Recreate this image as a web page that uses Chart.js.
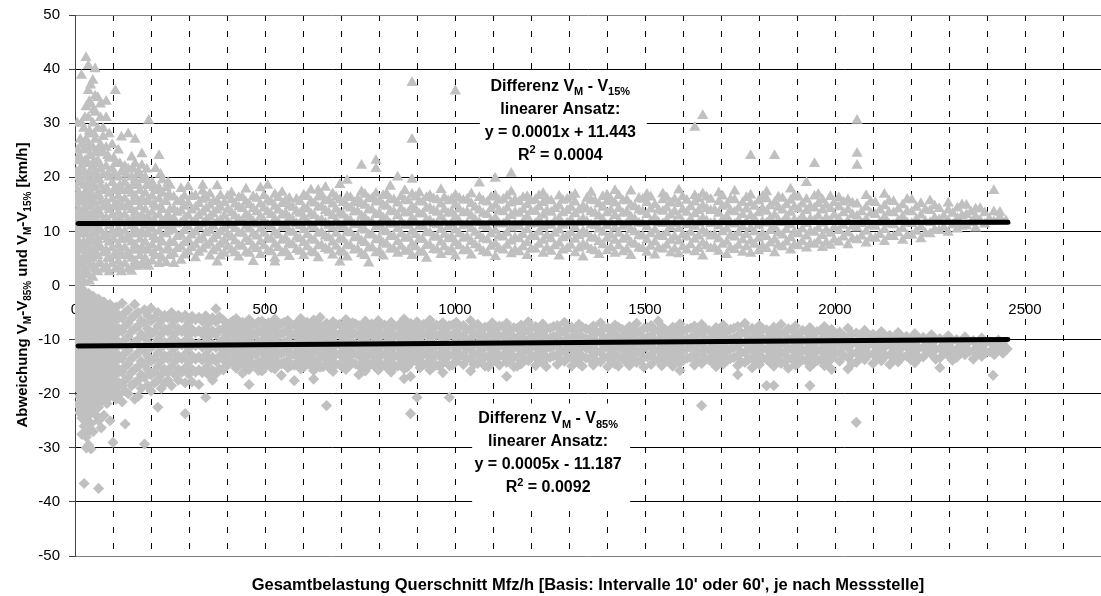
<!DOCTYPE html>
<html>
<head>
<meta charset="utf-8">
<script src="https://cdn.jsdelivr.net/npm/chart.js@4/dist/chart.umd.min.js"></script>
<style>
  html, body { margin: 0; padding: 0; background: #fff; }
</style>
</head>
<body>
<canvas id="chart" width="1101" height="596"></canvas>
<script>
// Differenz V_M - V_15% : each row is [Mfz/h, deviation, deviation, ...]
const vm15Rows = [
  [2, 0.5, 2, 4, 6, 9, 12, 15, 18],
  [4, 3, 5.5, 8, 10.5, 13.5, 16.5, 21, 23],
  [6, 1, 3.5, 7, 10, 13, 16, 20, 25, 30],
  [11, 0.2, 2.5, 5, 8, 11, 14, 17, 21, 24],
  [14, 3.5, 6.5, 9.5, 12.5, 15.5, 19.5, 23, 27],
  [17, 1.5, 4, 7, 9.5, 12, 15.5, 19, 22, 26, 30, 38.8],
  [23, 2, 5, 8, 11, 13.5, 16, 18.5, 21, 25, 29],
  [26, 0.5, 3.5, 6.5, 10, 14, 17, 20, 23, 25.5, 31],
  [29, 3, 6, 9.5, 12.5, 15, 17.5, 20, 23, 27, 33, 42.1],
  [35, 2, 4.5, 7.5, 10.5, 13, 16, 19, 22.5, 26, 31, 36, 40.6],
  [38, 0.8, 5.5, 8.5, 11.5, 15, 18, 21, 24, 28.5, 34],
  [41, 3.5, 6.5, 9, 12, 14.5, 17, 20.5, 24, 28, 33.5, 37],
  [47, 1.5, 5, 8, 11, 13.5, 16.5, 19.5, 22, 25.5, 30, 37.9],
  [50, 3.5, 6.5, 9.5, 12.5, 15.5, 18.5, 23, 28, 32.5],
  [53, 3, 6, 9.5, 12.5, 15, 18, 21, 24.5, 27, 32, 35, 40],
  [60, 2.5, 5.5, 8.5, 11, 14, 17, 20, 23, 29, 34.7],
  [64, 4, 7.5, 10.5, 13.5, 16.5, 19.5, 22.5, 25],
  [67, 4, 7, 10, 13, 15.5, 18.5, 21.5, 26, 31, 33.5],
  [74, 3, 6, 9, 12, 14.5, 17.5, 20.5, 24.5, 27.5, 29],
  [82, 3.5, 6.5, 9.5, 12.5, 15.5, 18, 22, 25.5, 31, 34],
  [86, 5, 8.5, 11.5, 14.5, 17.5, 20.5, 24],
  [90, 2.5, 5, 8, 11, 14, 17, 20, 23.5, 28],
  [98, 4, 7, 10, 13, 16, 19, 21.5, 26],
  [102, 5.5, 8.5, 11.5, 14.5, 17.5, 20.5, 23.5],
  [106, 3, 6, 9.5, 12, 15, 18, 22.5, 36],
  [114, 4.5, 7.5, 10.5, 13.5, 16.5, 20, 25],
  [118, 3.5, 6.5, 9.5, 12.5, 15.5, 18.5, 22.5],
  [122, 2.5, 5.5, 8.5, 11.5, 14.5, 17.5, 21, 27.4],
  [131, 4, 7, 10, 13, 16, 19, 22],
  [135, 5.5, 8.5, 11.5, 14.5, 17.5, 20.5],
  [140, 3, 6, 9, 12, 15, 18, 21.5, 28],
  [149, 2.6, 5, 8, 11, 14, 17, 20, 23.7],
  [153, 3.5, 6.5, 9.5, 12.5, 15.5, 18.5, 21.5],
  [158, 4.5, 7.5, 10.5, 13.5, 16.5, 19.5, 22.5, 27],
  [167, 3.5, 6.5, 9.5, 12.5, 15.5, 18.5, 21],
  [171, 5.5, 8.5, 11.5, 14.5, 17.5, 20.5],
  [176, 4, 7, 10, 13, 16, 19.5, 22.2, 24.3],
  [185, 5, 8, 11, 14, 17, 20],
  [189, 3.8, 6.5, 9.5, 12.5, 15.5, 18.5, 21.5],
  [194, 3.5, 6.5, 9.5, 12.5, 15.5, 18.5, 30.5],
  [203, 4.5, 7.5, 10.5, 13.5, 16.5, 19],
  [207, 6, 9, 12, 15, 18],
  [212, 5.5, 8.5, 11.5, 14.5, 17.5, 21.6],
  [221, 4, 7, 10, 13, 16, 18, 24],
  [225, 5.5, 8.5, 11.5, 14.5, 17.5, 20.5],
  [230, 5, 8, 11, 14, 17, 19.5],
  [240, 4.2, 6.5, 9.5, 12.5, 15.5, 18],
  [245, 7, 10, 13, 16.5, 19],
  [250, 5.5, 8, 11, 14, 16.5, 18.5],
  [260, 5.8, 7.9, 10.2, 12.4, 14.1, 16.3, 4],
  [269, 6.8, 9, 11.3, 13.5, 15.5],
  [279, 4.6, 7.1, 9.3, 11.6, 13.8, 15.7, 17.9],
  [288, 5.6, 7.9, 10.1, 12.3, 14.6, 16.5],
  [298, 6.2, 8.4, 10.8, 12.9, 15.2, 18.2],
  [307, 7, 9.3, 11.6, 13.9, 16.4],
  [317, 5.1, 7.5, 9.9, 12.1, 14.4, 16.6],
  [326, 6.1, 8.4, 10.7, 12.9, 15.1],
  [336, 6.7, 8.8, 11.3, 13.5, 15.9, 17.4, 18.5],
  [345, 7.4, 9.7, 12, 14.2, 16.2],
  [355, 5.4, 7.8, 10.1, 12.6, 14.8, 16.9],
  [364, 6.4, 8.6, 10.9, 13.2, 15.5],
  [374, 4.3, 6.9, 9.2, 11.7, 13.9, 15.6, 18.4],
  [383, 5.4, 7.6, 9.9, 12.1, 14.4, 16.6],
  [393, 5.9, 8.2, 10.5, 12.8, 15.3],
  [402, 7.1, 9.4, 11.7, 14, 16.5],
  [412, 6.5, 8.9, 11.1, 13.4, 15.8, 17.1],
  [421, 6, 8.2, 10.5, 12.8, 15],
  [431, 5.2, 7.4, 9.7, 12.2, 14.5, 16.2],
  [440, 7.2, 9.6, 11.9, 14.2, 16.3],
  [450, 6.1, 8.6, 10.9, 13.1, 15.4, 17.8],
  [459, 5.9, 8.1, 10.4, 12.6, 14.9],
  [469, 4.4, 7.2, 9.5, 11.8, 14.2, 16.4],
  [478, 6.8, 9.1, 11.3, 13.6, 16.1],
  [488, 5.7, 8.1, 10.4, 12.7, 15, 18],
  [497, 7.3, 9.6, 11.9, 14.3, 16.6],
  [507, 6.4, 8.7, 11.2, 13.6, 15.7, 18.5],
  [516, 6.2, 8.5, 10.8, 13.1, 15.4],
  [526, 5, 7.6, 9.8, 12.3, 14.6, 16.8, 4.3],
  [535, 7, 9.3, 11.6, 13.9, 16.2],
  [545, 6, 8.3, 10.7, 13, 15.1, 17.2],
  [554, 6.4, 8.7, 11, 13.3, 15.6],
  [564, 5.3, 7.7, 10, 12.5, 14.7, 16.1],
  [573, 7.5, 9.8, 12.1, 14.4],
  [583, 6.6, 8.9, 11.4, 13.7, 15.9],
  [592, 6.3, 8.6, 11, 13.3, 15.5],
  [602, 5.5, 7.9, 10.3, 12.6, 14.3, 16.7],
  [611, 7.1, 9.4, 11.8, 14.1, 16.4],
  [621, 6.2, 8.5, 10.9, 13.2, 15.5, 17.6],
  [630, 6, 8.3, 10.6, 12.9, 15.2],
  [640, 5.1, 7.3, 9.6, 12, 14.4, 16.3, 17.6],
  [649, 7.4, 9.8, 12.1, 14.5, 16.7],
  [659, 6.8, 9.1, 11.5, 13.8, 15.6, 18.1],
  [668, 6.5, 8.8, 11.1, 13.4, 15.7],
  [678, 5.6, 8, 10.6, 12.9, 15, 16.9],
  [687, 7.2, 9.6, 11.9, 14.1, 16.3],
  [697, 6.3, 8.6, 11, 13.3, 15.8, 18.6, 4.3],
  [706, 6.1, 8.4, 10.7, 13, 15.3],
  [716, 5.2, 7.5, 9.9, 12.2, 14.6, 16.4, 19.4],
  [725, 7.3, 9.7, 12, 14.3, 16.2],
  [735, 6.5, 8.8, 11.2, 13.6, 15.3],
  [744, 6.6, 8.9, 11.3, 13.6, 15.9],
  [754, 5.8, 8.2, 10.4, 12.8, 15.1, 17.3, 22.2],
  [763, 5.5, 7.9, 10.2, 12.5, 14.8, 16.8],
  [773, 4.1, 6.9, 9.4, 11.7, 14, 16],
  [782, 7, 9.3, 11.6, 13.9, 16.1],
  [792, 6, 8.4, 10.8, 13.1, 15.4, 17, 23.1, 21.6],
  [801, 6.4, 8.7, 11, 13.3, 15.6],
  [811, 5.4, 7.8, 10.1, 12.5, 14.8, 16.6],
  [820, 7.6, 9.9, 12.2, 14.6, 16.9],
  [830, 6.7, 9, 11.3, 13.7, 15.9, 18.3],
  [839, 6.7, 9, 11.3, 13.6, 15.8],
  [849, 5.9, 8.1, 10.5, 12.9, 15.2, 20],
  [858, 7.2, 9.5, 11.8, 14.1, 16.4],
  [868, 6.3, 8.7, 11.1, 13.4, 15.7, 17.5],
  [877, 6.4, 8.8, 11.1, 13.4, 15.6],
  [887, 5.5, 7.6, 10, 12.4, 14.5, 16.8, 19.6, 27, 37.5],
  [896, 7.1, 9.4, 11.7, 14, 16.3],
  [906, 6.1, 8.5, 10.9, 13.2, 15.5, 17.1],
  [915, 6.2, 8.5, 10.9, 13.2, 15.4],
  [925, 5, 7.4, 9.8, 12.1, 14.3, 16.2],
  [934, 7.4, 9.7, 12, 14.3, 16.6],
  [944, 6.6, 8.9, 11.4, 13.8, 16],
  [953, 6.5, 8.9, 11.2, 13.5, 15.8],
  [963, 5.7, 8, 10.3, 12.7, 15, 17.7],
  [972, 7.1, 9.4, 11.7, 14, 16.2],
  [982, 6.2, 8.6, 10.8, 13.3, 15.6],
  [991, 6.6, 8.9, 11.3, 13.6, 15.9],
  [1001, 5.4, 7.9, 10.2, 12.6, 14.9, 16.7, 35.9],
  [1011, 7.3, 9.5, 11.8, 14.1, 16.1],
  [1022, 6.4, 8.7, 11, 13.4, 15.7],
  [1032, 6.6, 8.9, 11.3, 13.6, 15.9],
  [1043, 5.6, 8.1, 10.5, 12.8, 15.1, 16.9],
  [1053, 7.5, 9.8, 12.1, 14.4],
  [1064, 6.9, 9.2, 11.6, 13.9, 16.2, 18.9],
  [1074, 6.3, 8.6, 11, 13.3, 15.6],
  [1085, 6, 8.4, 10.7, 13.1, 15.4],
  [1095, 7.2, 9.5, 11.9, 14.2, 16.3],
  [1106, 5.3, 7.7, 10.1, 12.5, 14.8, 16.6, 19.8],
  [1116, 6.8, 9.1, 11.4, 13.8, 15.7],
  [1127, 6.5, 8.9, 11.3, 13.6, 15.9],
  [1137, 7.4, 9.7, 12, 14.3, 16.5],
  [1148, 5.8, 8.2, 10.6, 12.9, 15.2, 17.3, 20.7],
  [1158, 6.5, 8.8, 11.2, 13.5, 15.8],
  [1169, 6.2, 8.6, 10.9, 13.3, 15.5],
  [1179, 7.1, 9.4, 11.7, 14, 16.2],
  [1190, 5.5, 7.9, 10.3, 12.7, 14.9, 16.4],
  [1200, 6.7, 9, 11.3, 13.7, 15.6],
  [1211, 6.7, 9, 11.4, 13.7, 15.8],
  [1221, 7.6, 9.9, 12.2, 14.5, 16.6],
  [1232, 5.9, 8.3, 10.8, 13, 15.3, 17],
  [1242, 6.9, 9.2, 11.5, 13.8, 16],
  [1253, 6.3, 8.6, 11.1, 13.5, 15.6],
  [1263, 7.3, 9.6, 11.9, 14.2],
  [1274, 5.4, 7.8, 10.2, 12.4, 14.7, 16.5],
  [1284, 6.5, 8.8, 11.1, 13.4, 15.7],
  [1295, 6.8, 9.1, 11.5, 13.8, 15.9],
  [1305, 7.4, 9.7, 12.1, 14.4, 16.3],
  [1316, 6, 8.5, 10.7, 13.2, 15.4, 16.8],
  [1326, 6.9, 9.2, 11.6, 13.9],
  [1337, 5.2, 7.6, 10, 12.3, 14.6],
  [1347, 7.2, 9.5, 11.8, 14.1, 16.1],
  [1358, 6.6, 8.8, 11.2, 13.6, 15.7, 17.2],
  [1368, 6.4, 8.7, 11, 13.3, 15.6],
  [1379, 5.7, 8.1, 10.4, 12.8, 15],
  [1389, 7.5, 9.8, 12.1, 14.4, 16.4],
  [1400, 6.4, 8.7, 11, 13.4, 15.5, 16.7],
  [1410, 7, 9.3, 11.6, 13.9, 15.9],
  [1421, 5.9, 8.3, 10.6, 12.9, 15.2, 17.5],
  [1431, 7.3, 9.6, 11.9, 14.2, 16.6],
  [1442, 6.2, 8.5, 10.9, 13.3, 15.6],
  [1452, 6.6, 8.9, 11.3, 13.6, 15.8],
  [1463, 5.5, 7.9, 10.3, 12.6, 14.8, 17.4],
  [1473, 7.6, 9.9, 12.2, 14.5],
  [1484, 6.9, 9.2, 11.5, 13.9, 16.1],
  [1494, 6.8, 9.1, 11.4, 13.7, 15.9],
  [1505, 6.1, 8.4, 10.8, 13.1, 15.3, 16.8],
  [1515, 7.2, 9.5, 11.8, 14.1, 16.3],
  [1526, 5.6, 8, 10.2, 12.5, 14.9],
  [1536, 6.9, 9.2, 11.6, 13.9],
  [1547, 6.7, 9, 11.4, 13.7, 15.8, 16.9],
  [1557, 7.4, 9.7, 12, 14.3, 16.2],
  [1568, 6, 8.3, 10.7, 13, 15.2],
  [1578, 6.7, 9, 11.4, 13.7, 15.9],
  [1589, 5.8, 8.2, 10.5, 12.8, 15.1, 17.6],
  [1599, 7.1, 9.4, 11.7, 14, 16.4],
  [1610, 6.5, 8.9, 11.2, 13.5, 15.7],
  [1620, 7.5, 9.8, 12.2, 14.5],
  [1631, 6.2, 8.5, 10.9, 13.2, 15.4, 16.6, 29.2],
  [1641, 6.8, 9.1, 11.5, 13.8, 16],
  [1652, 5.4, 7.8, 10.1, 12.4, 14.7, 16.9, 31.4],
  [1662, 7.3, 9.6, 11.9, 14.2, 16.3],
  [1673, 6.8, 9.1, 11.4, 13.8, 15.9],
  [1683, 7, 9.3, 11.6, 13.9],
  [1694, 6.3, 8.6, 11, 13.3, 15.5, 17.1],
  [1704, 7.6, 9.9, 12.2, 14.6, 16.5],
  [1715, 5.7, 8, 10.4, 12.7, 14.9],
  [1725, 6.9, 9.2, 11.5, 13.8, 15.9],
  [1736, 6.6, 8.9, 11.3, 13.6, 15.8, 17.4],
  [1746, 7.4, 9.7, 12, 14.3],
  [1757, 6.1, 8.4, 10.8, 13.1, 15.3],
  [1767, 7.1, 9.4, 11.8, 14.1, 16.2],
  [1778, 5.9, 8.2, 10.6, 12.9, 15.2, 16.7, 24],
  [1788, 7.6, 9.9, 12.3, 14.6],
  [1799, 6.4, 8.7, 11.1, 13.4, 15.6],
  [1809, 7.2, 9.5, 11.8, 14.2, 16.4],
  [1820, 6.8, 9, 11.5, 13.7, 16, 17.3],
  [1830, 7.8, 10.1, 12.4, 14.7],
  [1841, 6, 8.4, 10.7, 13, 15.3, 24],
  [1851, 7.4, 9.7, 12, 14.4, 16.3],
  [1862, 7.1, 9.3, 11.6, 13.9, 16.1],
  [1872, 8, 10.3, 12.6, 14.9],
  [1883, 6.5, 8.8, 11.2, 13.5, 15.7, 17.8],
  [1893, 7.5, 9.8, 12.1, 14.5, 16.6],
  [1904, 7.3, 9.5, 11.8, 14.1, 16.3],
  [1914, 8.1, 10.4, 12.7, 15],
  [1925, 6.9, 9.1, 11.4, 13.8, 15.9, 19],
  [1935, 7.7, 10, 12.3, 14.6],
  [1946, 7.6, 9.8, 12, 14.3, 16.5, 22.5],
  [1956, 8.2, 10.5, 12.8, 15.1, 16.8],
  [1967, 7, 9.2, 11.5, 13.9, 15.8],
  [1977, 7.9, 10.2, 12.5, 14.8],
  [1988, 7.4, 9.6, 11.9, 14.2, 16.4],
  [1998, 8.4, 10.7, 13, 15.3],
  [2010, 8, 10.1, 12.3, 14.5, 16.2],
  [2022, 8.9, 11.1, 13.4, 15.4],
  [2034, 7.5, 9.7, 11.9, 14, 15.8],
  [2046, 8.6, 10.9, 13.1, 15.2],
  [2058, 8.4, 10.6, 12.8, 15, 22.2, 24.4, 30.5],
  [2070, 9.1, 11.4, 13.6],
  [2082, 7.8, 10, 12.2, 14.4, 16.6],
  [2094, 8.8, 11, 13.3, 15.5],
  [2106, 8.7, 10.9, 13.1, 15.3],
  [2118, 9.4, 11.6, 13.9],
  [2130, 8.1, 10.3, 12.6, 14.7, 16.8],
  [2142, 9, 11.3, 13.5, 15.6],
  [2154, 9, 11.2, 13.4, 15.5],
  [2166, 9.7, 11.9, 14.1],
  [2178, 8.3, 10.5, 12.7, 14.9],
  [2190, 9.2, 11.5, 13.7, 15.9],
  [2202, 9.3, 11.4, 13.6, 15.8],
  [2214, 10, 12.2, 14.4],
  [2226, 8.6, 10.8, 13, 15.1],
  [2238, 9.6, 11.8, 14],
  [2250, 9.5, 11.6, 13.8, 15.6],
  [2262, 10.3, 12.5, 14.7],
  [2274, 10.1, 12.1, 14.2],
  [2286, 10.7, 12.8],
  [2298, 9.8, 11.9, 13.9, 15.2],
  [2310, 11.2, 13.3],
  [2322, 10.4, 12.4, 14.3],
  [2334, 10.9, 12.9, 14.9],
  [2346, 11, 13.1, 14.8],
  [2358, 11.6, 13.6],
  [2370, 10.6, 12.7, 14.1],
  [2382, 12, 14.2],
  [2394, 11.3, 13.4],
  [2406, 12.3],
  [2418, 11.8, 13.6, 17.5],
  [2434, 12.6, 13.5],
  [2450, 11.9]
];

// Differenz V_M - V_85% : each row is [Mfz/h, deviation, deviation, ...]
const vm85Rows = [
  [2, -0.5, -2.5, -5, -7.5, -10, -12.5, -15, -18],
  [7, -1.5, -4, -6.5, -9, -11.5, -14, -16.5, -19, -22],
  [12, -0.8, -3, -5.5, -8, -10.5, -13, -15.5, -18, -20.5, -23.5],
  [18, -2, -4.5, -7, -9.5, -12, -14.5, -17, -19.5, -22, -24.5, -27.5],
  [24, -1, -3.5, -6, -8.5, -11, -13.5, -16, -18.5, -21, -23, -26, -36.6],
  [30, -2.5, -5, -7.5, -10, -12.5, -15, -17.5, -20, -22.5, -25, -28, -30],
  [36, -1.5, -4, -6.5, -9, -11.5, -14, -16.5, -19, -21.5, -24, -27, -29.5],
  [42, -3, -5.5, -8, -10.5, -13, -15.5, -18, -20.5, -23, -25.5, -30.2],
  [48, -2, -4.5, -7, -9.5, -12, -14.5, -17, -19.5, -22, -27],
  [55, -3.5, -6, -8.5, -11, -13.5, -16, -18.5, -21, -24],
  [62, -2.5, -5, -7.5, -10, -12.5, -15, -17.5, -20, -22.5, -25, -37.5],
  [69, -4, -6.5, -9, -11.5, -14, -16.5, -19, -21.5, -26.3],
  [76, -3, -5.5, -8, -10.5, -13, -15.5, -18, -20.5, -24],
  [84, -4.5, -7, -9.5, -12, -14.5, -17, -19.5, -21.8],
  [92, -3.5, -6, -8.5, -11, -13.5, -16, -18.5, -20.5, -25],
  [100, -5, -7.5, -10, -12.5, -15, -17.5, -20, -29],
  [108, -4, -6.5, -9, -11.5, -14, -16.5, -19, -21],
  [116, -5.5, -8, -10.5, -13, -15.5, -18, -20.2],
  [124, -3.3, -6, -8.5, -11, -13.5, -16, -18.5, -21.5],
  [132, -5, -7.5, -10, -12.5, -15, -17.5, -19.5, -25.6],
  [140, -4.5, -7, -9.5, -12, -14.5, -17, -20],
  [149, -6, -8.5, -11, -13.5, -16, -18.5],
  [157, -3.5, -5.5, -8, -10.5, -13, -15.5, -18, -21],
  [166, -5, -7.5, -10, -12.5, -15, -17.5, -20.5],
  [174, -6.5, -9, -11.5, -14, -16.5, -19],
  [183, -4.5, -7, -9.5, -12, -14.5, -17, -29.3],
  [191, -5.5, -8, -10.5, -13, -15.5, -18.5],
  [200, -4.2, -6.5, -9, -11.5, -14, -16.5, -19.5],
  [209, -6, -8.5, -11, -13.5, -16, -18],
  [218, -5, -7.5, -10, -12.5, -15, -17.5, -22.5],
  [227, -6.5, -9, -11.5, -14, -16.5, -19],
  [236, -5.5, -8, -10.5, -13, -15.5, -18],
  [245, -6, -8.5, -11, -13.5, -16, -17.5],
  [254, -5, -7.5, -10, -12.5, -15, -18.5],
  [263, -6.5, -9, -11.5, -14, -16.5],
  [272, -5.5, -8, -10.5, -13, -15.5, -17.5],
  [281, -6, -8.5, -11, -13.5, -16],
  [290, -5.5, -7.8, -10.2, -12.7, -15.2, -18, -23.7],
  [299, -6.8, -9.2, -11.6, -14.1, -16.4],
  [308, -5.7, -8.1, -10.5, -13, -15.5, -17.8],
  [317, -6.3, -8.7, -11.1, -13.6, -16],
  [326, -5.9, -8.3, -10.7, -13.2, -15.6, -18.3],
  [335, -6.6, -9, -11.4, -13.8, -16.1],
  [344, -5.6, -8, -10.4, -12.9, -15.3, -20.7],
  [353, -6.9, -9.3, -11.7, -14.2, -16.6],
  [362, -6, -8.4, -10.8, -13.3, -15.7, -17.5],
  [371, -4.3, -6.7, -9.1, -11.5, -14, -16.3],
  [380, -5.8, -8.2, -10.6, -13.1, -15.4],
  [390, -6.4, -8.2, -10, -11.9, -13.7, -15.6],
  [398, -7.5, -9.3, -11.2, -13, -14.9],
  [407, -7, -8.8, -10.7, -12.5, -14.4],
  [415, -6.6, -8.4, -10.3, -12.1, -14],
  [424, -6.1, -7.9, -9.8, -11.6, -13.5, -15.3],
  [432, -7.2, -9, -10.9, -12.7, -14.6],
  [441, -6.8, -8.6, -10.5, -12.3, -14.1, -16.2],
  [449, -7.7, -9.5, -11.4, -13.2, -15],
  [458, -6.3, -8.1, -10, -11.8, -13.7, -15.5, -18.3],
  [466, -7.1, -8.9, -10.8, -12.6, -14.5],
  [475, -7.2, -9, -10.9, -12.7, -14.6],
  [483, -6.7, -8.5, -10.4, -12.2, -14.1, -15.7],
  [492, -6.6, -8.4, -10.3, -12.1, -14, -15.8],
  [500, -7.6, -9.4, -11.3, -13.1, -15],
  [509, -6.9, -8.7, -10.6, -12.4, -14.3],
  [517, -7.9, -9.7, -11.6, -13.4, -15.2],
  [526, -6.2, -8, -9.9, -11.7, -13.6, -15.4],
  [534, -7.1, -8.9, -10.8, -12.6, -14.5],
  [543, -7.1, -8.9, -10.8, -12.6, -14.5, -16.6],
  [551, -6.8, -8.6, -10.5, -12.3, -14.2],
  [560, -6.5, -8.3, -10.2, -12, -13.9, -15.2],
  [568, -7.4, -9.2, -11.1, -12.9, -14.8],
  [577, -7.3, -9.1, -11, -12.8, -14.7, -17.6],
  [585, -6.9, -8.7, -10.6, -12.4, -14.3],
  [594, -6.1, -7.9, -9.8, -11.6, -13.5, -15.4],
  [602, -7.7, -9.5, -11.4, -13.2, -15.1],
  [611, -6.8, -8.6, -10.5, -12.3, -14.2],
  [619, -7.3, -9.1, -11, -12.8, -14.7],
  [628, -6.4, -8.2, -10.1, -11.9, -13.8, -15.7, -17.3],
  [636, -6.7, -8.5, -10.4, -12.2, -14.1],
  [645, -5.9, -7.7, -9.6, -11.4, -13.3, -15.1],
  [653, -7.6, -9.4, -11.3, -13.1, -15],
  [662, -7, -8.8, -10.7, -12.5, -14.4, -22.2],
  [670, -7.9, -9.7, -11.6, -13.4, -15.3],
  [679, -6.7, -8.5, -10.4, -12.2, -14.1, -15.9],
  [687, -7.2, -9, -10.9, -12.7, -14.6],
  [696, -7.2, -9, -10.9, -12.7, -14.6],
  [704, -7.6, -9.4, -11.3, -13.1, -15.1],
  [713, -6.3, -8.1, -10, -11.8, -13.7, -15.5],
  [721, -7.8, -9.6, -11.5, -13.3, -14.9],
  [730, -6.9, -8.7, -10.6, -12.4, -14.3],
  [738, -7.1, -8.9, -10.8, -12.6, -14.5],
  [747, -7.4, -9.2, -11.1, -12.9, -14.8, -16.5],
  [755, -7.9, -9.7, -11.6, -13.4, -15.2],
  [764, -6.6, -8.4, -10.3, -12.1, -14, -15.8],
  [772, -7.5, -9.3, -11.2, -13, -14.9],
  [781, -7.1, -8.9, -10.8, -12.6, -14.5],
  [789, -7.8, -9.6, -11.5, -13.3, -14.9],
  [798, -6.5, -8.3, -10.2, -12, -13.9, -15.6],
  [806, -7.2, -9, -10.9, -12.7, -14.6],
  [815, -7.3, -9.1, -11, -12.8, -14.7],
  [823, -7.9, -9.7, -11.6, -13.4, -15.3],
  [832, -6.8, -8.6, -10.5, -12.3, -14.2, -16],
  [840, -7.6, -9.4, -11.3, -13.1, -15],
  [849, -7.5, -9.3, -11.2, -13, -14.9],
  [857, -7, -8.8, -10.7, -12.5, -14.4],
  [866, -6.2, -8, -9.9, -11.7, -13.6, -15.4, -17.2],
  [874, -7.8, -9.6, -11.5, -13.3, -15.1],
  [883, -7, -8.8, -10.7, -12.5, -14.4, -16.8, -23.7],
  [891, -7.5, -9.3, -11.2, -13],
  [900, -6.7, -8.5, -10.4, -12.2, -14.1, -20.7],
  [908, -7.9, -9.7, -11.6, -13.4, -15.2],
  [917, -7.2, -9, -10.9, -12.7, -14.6],
  [925, -7.1, -8.9, -10.8, -12.6, -14.5],
  [934, -6.4, -8.2, -10.1, -11.9, -13.8, -15.6],
  [942, -7.7, -9.5, -11.4, -13.2, -15.1],
  [951, -7.3, -9.1, -11, -12.8, -14.7],
  [959, -7.5, -9.3, -11.2, -13, -14.9],
  [968, -6.9, -8.7, -10.6, -12.4, -14.3, -16.1],
  [976, -7.9, -9.7, -11.6, -13.4],
  [985, -7.4, -9.2, -11.1, -12.9, -14.8, -20.7],
  [993, -7.3, -9.1, -11, -12.8, -14.7],
  [1003, -6.8, -8.6, -10.4, -12.2, -14],
  [1012, -7.7, -9.5, -11.3, -13.1],
  [1022, -7.4, -9.2, -11, -12.8, -14.6],
  [1031, -8.1, -9.9, -11.7, -13.5],
  [1041, -6.5, -8.3, -10.1, -11.9, -13.7, -15.8],
  [1050, -7.4, -9.2, -11, -12.8, -14.6],
  [1060, -7.2, -9, -10.8, -12.6, -14.4],
  [1069, -8.2, -10, -11.8, -13.6],
  [1079, -7.7, -9.5, -11.3, -13.1, -14.9],
  [1088, -7.8, -9.6, -11.4, -13.2, -15],
  [1098, -6.9, -8.7, -10.5, -12.3, -14.1],
  [1107, -8.1, -9.9, -11.7, -13.5],
  [1117, -7.5, -9.3, -11.1, -12.9, -14.7],
  [1126, -7.6, -9.4, -11.2, -13],
  [1136, -7, -8.8, -10.6, -12.4, -14.2, -16.8],
  [1145, -8.3, -10.1, -11.9, -13.7],
  [1155, -7.8, -9.6, -11.4, -13.2, -15],
  [1164, -7.9, -9.7, -11.5, -13.3, -14.9],
  [1174, -7.3, -9.1, -10.9, -12.7, -14.5],
  [1183, -8.2, -10, -11.8, -13.6],
  [1193, -6.7, -8.5, -10.3, -12.1, -13.9],
  [1202, -7.7, -9.5, -11.3, -13.1],
  [1212, -7.6, -9.4, -11.2, -13, -14.8],
  [1221, -8.4, -10.2, -12, -13.8],
  [1231, -7.1, -8.9, -10.7, -12.5, -14.3],
  [1240, -8, -9.8, -11.6, -13.4, -15],
  [1250, -7.9, -9.7, -11.5, -13.3],
  [1259, -7.6, -9.4, -11.2, -13],
  [1269, -7.4, -9.2, -11, -12.8, -14.6],
  [1278, -8.3, -10.1, -11.9, -13.7],
  [1288, -6.8, -8.6, -10.4, -12.2, -14],
  [1297, -7.9, -9.7, -11.5, -13.3],
  [1307, -7.7, -9.5, -11.3, -13.1, -14.9],
  [1316, -8.5, -10.3, -12.1, -13.9],
  [1326, -7.2, -9, -10.8, -12.6, -14.4],
  [1335, -7.7, -9.5, -11.3, -13.1, -14.9],
  [1345, -8, -9.8, -11.6, -13.4],
  [1354, -8.2, -10, -11.8, -13.6],
  [1364, -7.5, -9.3, -11.1, -12.9, -14.7],
  [1373, -8.6, -10.4, -12.2, -14],
  [1383, -6.9, -8.7, -10.5, -12.3, -14.1],
  [1392, -7.9, -9.7, -11.5, -13.3],
  [1402, -7.8, -9.6, -11.4, -13.2, -15],
  [1411, -8.4, -10.2, -12, -13.8],
  [1421, -7.3, -9.1, -10.9, -12.7, -14.5],
  [1430, -7.7, -9.5, -11.3, -13.1, -14.9],
  [1440, -8.1, -9.9, -11.7, -13.5],
  [1449, -8.6, -10.4, -12.2, -14],
  [1459, -7.6, -9.4, -11.2, -13, -14.8],
  [1468, -8.2, -10, -11.8, -13.6],
  [1478, -7, -8.8, -10.6, -12.4, -14.2],
  [1487, -8.5, -10.3, -12.1, -13.9],
  [1497, -7.9, -9.7, -11.5, -13.3, -15.1],
  [1506, -7.8, -9.6, -11.4, -13.2],
  [1516, -7.4, -9.2, -11, -12.8, -14.6],
  [1525, -8.3, -10.1, -11.9, -13.7],
  [1535, -6.6, -8.4, -10.2, -12, -13.8],
  [1544, -7.6, -9.4, -11.2, -13, -14.8],
  [1554, -8.2, -10, -11.8, -13.6],
  [1563, -8.7, -10.5, -12.3, -14.1],
  [1573, -7.7, -9.5, -11.3, -13.1, -14.9],
  [1582, -8.1, -9.9, -11.7, -13.5],
  [1592, -7.1, -8.9, -10.7, -12.5, -14.3, -15.7],
  [1601, -8.4, -10.2, -12, -13.8],
  [1611, -8, -9.8, -11.6, -13.4],
  [1620, -7.9, -9.7, -11.5, -13.3],
  [1630, -7.5, -9.3, -11.1, -12.9, -14.7],
  [1639, -8.6, -10.4, -12.2, -14],
  [1649, -7.2, -9, -10.8, -12.6, -14.4, -22.2],
  [1658, -8, -9.8, -11.6, -13.4],
  [1668, -8.3, -10.1, -11.9, -13.7],
  [1677, -8.8, -10.6, -12.4, -14.2],
  [1687, -7.8, -9.6, -11.4, -13.2, -15],
  [1696, -8.2, -10, -11.8, -13.6],
  [1706, -7.3, -9.1, -10.9, -12.7, -14.5],
  [1715, -8.5, -10.3, -12.1, -13.9],
  [1725, -8.1, -9.9, -11.7, -13.5],
  [1734, -7.9, -9.7, -11.5, -13.3],
  [1744, -7.6, -9.4, -11.2, -13, -14.8, -16.5],
  [1753, -8.7, -10.5, -12.3, -14.1],
  [1763, -7, -8.8, -10.6, -12.4, -14.2],
  [1772, -8.3, -10.1, -11.9, -13.7],
  [1782, -7.9, -9.7, -11.5, -13.3, -15.2],
  [1791, -8.6, -10.4, -12.2, -14],
  [1801, -7.4, -9.2, -11, -12.8, -14.6],
  [1810, -8, -9.8, -11.6, -13.4],
  [1820, -8.2, -10, -11.8, -13.6, -18.5],
  [1829, -8.8, -10.6, -12.4, -14.2],
  [1839, -7.7, -9.5, -11.3, -13.1, -14.9, -18.5],
  [1848, -8.4, -10.2, -12, -13.8],
  [1858, -7.2, -9, -10.8, -12.6, -14.4],
  [1867, -8.7, -10.5, -12.3, -14.1],
  [1877, -8, -9.8, -11.6, -13.4, -15.3],
  [1886, -8.2, -10, -11.8, -13.6],
  [1896, -7.5, -9.3, -11.1, -12.9, -14.7],
  [1905, -8.9, -10.7, -12.5, -14.3],
  [1915, -8.3, -10.1, -11.9, -13.7],
  [1924, -8.5, -10.3, -12.1, -13.9],
  [1934, -7.8, -9.6, -11.4, -13.2, -15, -18.5],
  [1943, -9, -10.8, -12.6, -14.4],
  [1953, -8.5, -10.3, -12.1, -13.9],
  [1962, -8.3, -10.1, -11.9, -13.7],
  [1972, -7.6, -9.4, -11.2, -13, -14.8],
  [1981, -8.8, -10.6, -12.4, -14.2],
  [1991, -8.1, -9.9, -11.7, -13.5, -15.5],
  [2001, -9.1, -10.9, -12.7],
  [2012, -8.6, -10.4, -12.2, -14],
  [2023, -9.3, -11.1, -12.9],
  [2034, -7.9, -9.7, -11.5, -13.3, -15.4],
  [2045, -9, -10.8, -12.6, -14.4],
  [2056, -8.8, -10.6, -12.4, -14.2, -25.3],
  [2067, -9.5, -11.3, -13.1],
  [2078, -8.3, -10.1, -11.9, -13.7],
  [2089, -9.2, -11, -12.8],
  [2100, -9, -10.8, -12.6, -14.4],
  [2111, -9.7, -11.5, -13.3],
  [2122, -8.5, -10.3, -12.1, -13.9],
  [2133, -9.4, -11.2, -13],
  [2144, -9.2, -11, -12.8, -14.6],
  [2155, -9.9, -11.7, -13.5],
  [2166, -8.7, -10.5, -12.3, -14.1],
  [2177, -9.6, -11.4, -13.2],
  [2188, -9.4, -11.2, -13],
  [2199, -10.1, -11.9, -13.7],
  [2210, -8.9, -10.7, -12.5, -14.3],
  [2221, -9.8, -11.6, -13.4],
  [2232, -9.6, -11.4, -13.2],
  [2243, -10.3, -12.1],
  [2254, -9.1, -10.9, -12.7],
  [2265, -10, -11.8, -13.6],
  [2276, -9.8, -11.6, -13.4, -15.2],
  [2287, -10.5, -12.3],
  [2298, -9.3, -11.1, -12.9],
  [2309, -10.2, -12, -13.8],
  [2320, -10, -11.8, -13.3],
  [2331, -10.7, -12.5],
  [2342, -9.5, -11.3, -12.8],
  [2353, -10.4, -12.2],
  [2364, -10.2, -12, -13.6],
  [2375, -10.9, -12.7],
  [2386, -9.7, -11.5, -13.1],
  [2397, -10.6, -12.4],
  [2408, -10.4, -12.2],
  [2416, -16.6],
  [2419, -11, -12.8],
  [2430, -10.1, -11.9],
  [2442, -10.8, -12.5],
  [2453, -11.7]
];

// linear fits [V_M - V_15%, V_M - V_85%]
const trendSlope = [0.0001, 0.0005];
const trendIntercept = [11.443, -11.187];
const trendR2 = ['0.0004', '0.0092'];
const trendFrom = 8;
const trendTo = 2455;

const xMin = 0, xMax = 2700, xGridStep = 100, xLabelStep = 500;
const yMin = -50, yMax = 50, yStep = 10;

const FONT = 'Arial, "Liberation Sans", sans-serif';
const GREY = '#c0c0c0';

const toPoints = rows => rows.flatMap(([x, ...ys]) => ys.map(y => ({ x, y })));
const trendLine = i => [trendFrom, trendTo].map(x => ({ x, y: trendSlope[i] * x + trendIntercept[i] }));

function eqText(i) {
  const b = trendIntercept[i];
  return 'y = ' + trendSlope[i].toFixed(4) + 'x ' + (b < 0 ? '- ' : '+ ') + Math.abs(b).toFixed(3);
}

// text with sub/superscripts: segments of [text, kind]
function drawRich(ctx, segs, cx, baseY, size) {
  const small = Math.round(size * 0.68);
  const font = k => 'bold ' + (k ? small : size) + 'px ' + FONT;
  const shift = { '': 0, sub: size * 0.28, sup: -size * 0.42 };
  let total = 0;
  segs.forEach(([t, k]) => { ctx.font = font(k); total += ctx.measureText(t).width; });
  let x = cx - total / 2;
  ctx.textAlign = 'left';
  ctx.textBaseline = 'alphabetic';
  ctx.fillStyle = '#000';
  segs.forEach(([t, k]) => {
    ctx.font = font(k);
    ctx.fillText(t, x, baseY + shift[k || '']);
    x += ctx.measureText(t).width;
  });
}

const boxes = [
  { x: 1285, y: 39.7, w: 167, h: 95, lines: [
    [['Differenz V', ''], ['M', 'sub'], [' - V', ''], ['15%', 'sub']],
    [['linearer Ansatz:', '']],
    [[eqText(0), '']],
    [['R', ''], ['2', 'sup'], [' = ' + trendR2[0], '']]
  ] },
  { x: 1253, y: -21.8, w: 158, h: 100, lines: [
    [['Differenz V', ''], ['M', 'sub'], [' - V', ''], ['85%', 'sub']],
    [['linearer Ansatz:', '']],
    [[eqText(1), '']],
    [['R', ''], ['2', 'sup'], [' = ' + trendR2[1], '']]
  ] }
];

const labelsPlugin = {
  id: 'fitLabels',
  beforeDatasetsDraw(chart) {
    const { ctx, scales: { x, y } } = chart;
    ctx.save();
    boxes.forEach(b => {
      const cx = x.getPixelForValue(b.x);
      const top = y.getPixelForValue(b.y);
      ctx.fillStyle = '#fff';
      ctx.fillRect(cx - b.w / 2, top, b.w, b.h);
      b.lines.forEach((segs, i) => drawRich(ctx, segs, cx - 3, top + 20 + i * 23, 16));
    });
    ctx.restore();
  },
  afterDraw(chart) {
    const { ctx, chartArea } = chart;
    ctx.save();
    drawRich(ctx, [['Gesamtbelastung Querschnitt Mfz/h [Basis: Intervalle 10\' oder 60\', je nach Messstelle]', '']],
      (chartArea.left + chartArea.right) / 2, 590, 16.5);
    ctx.translate(27, 285);
    ctx.rotate(-Math.PI / 2);
    drawRich(ctx, [
      ['Abweichung V', ''], ['M', 'sub'], ['-V', ''], ['85%', 'sub'],
      [' und V', ''], ['M', 'sub'], ['-V', ''], ['15%', 'sub'], [' [km/h]', '']
    ], 0, 0, 15);
    ctx.restore();
  }
};

new Chart(document.getElementById('chart'), {
  type: 'scatter',
  data: {
    datasets: [
      { type: 'line', data: trendLine(0), borderColor: '#000', borderWidth: 5, borderCapStyle: 'round', pointRadius: 0 },
      { type: 'line', data: trendLine(1), borderColor: '#000', borderWidth: 5, borderCapStyle: 'round', pointRadius: 0 },
      { data: toPoints(vm15Rows), pointStyle: 'triangle', pointRadius: 6.5,
        pointBackgroundColor: GREY, pointBorderColor: GREY, pointBorderWidth: 0 },
      { data: toPoints(vm85Rows), pointStyle: 'rectRot', pointRadius: 5.6,
        pointBackgroundColor: GREY, pointBorderColor: GREY, pointBorderWidth: 0 }
    ]
  },
  options: {
    responsive: false,
    animation: false,
    devicePixelRatio: 1,
    events: [],
    layout: { autoPadding: false, padding: { top: 15, bottom: 40, left: 0, right: 0 } },
    plugins: { legend: { display: false }, tooltip: { enabled: false } },
    scales: {
      x: {
        type: 'linear',
        min: xMin, max: xMax,
        position: { y: 0 },
        afterFit: s => { s.height = 0; s.paddingLeft = 0; s.paddingRight = 0; },
        border: { display: false, dash: [6, 10] },
        grid: { color: c => c.tick.value === 0 ? 'rgba(0,0,0,0)' : '#000', lineWidth: 1, drawTicks: false },
        ticks: {
          stepSize: xGridStep, autoSkip: false, maxRotation: 0, padding: 15,
          color: '#000', font: { family: FONT, size: 15 },
          callback: v => v % xLabelStep === 0 ? String(v) : ''
        }
      },
      y: {
        min: yMin, max: yMax,
        afterFit: s => { s.width = 75; s.paddingTop = 0; s.paddingBottom = 0; },
        border: { display: true, color: '#404040', width: 1 },
        grid: {
          color: c => (c.tick.value === 0 || Math.abs(c.tick.value) === 50) ? '#808080' : '#000',
          lineWidth: 1, tickLength: 6, tickColor: '#404040'
        },
        ticks: { stepSize: yStep, padding: 9, color: '#000', font: { family: FONT, size: 15 }, callback: v => String(v) }
      }
    }
  },
  plugins: [labelsPlugin]
});
</script>
</body>
</html>
